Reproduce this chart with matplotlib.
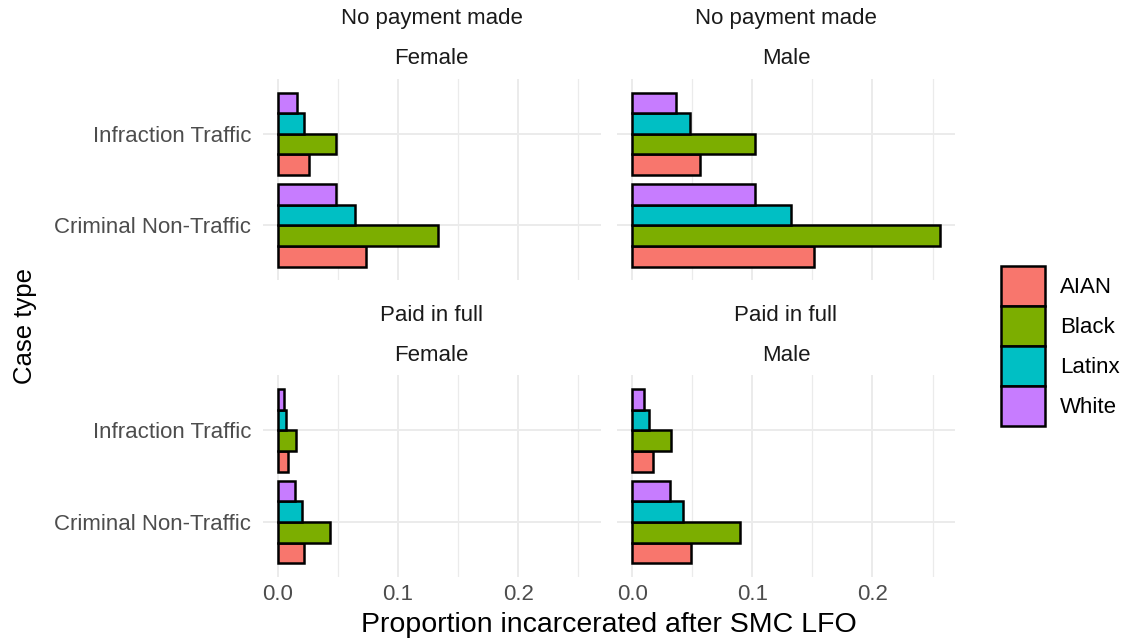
import matplotlib
matplotlib.use("Agg")
from matplotlib import pyplot as plt
from matplotlib.patches import Patch

plt.rcParams['font.family'] = ['Liberation Sans', 'DejaVu Sans']

# 数据
case_types = ["Criminal Non-Traffic", "Infraction Traffic"]
races = ["AIAN", "Black", "Latinx", "White"]
colors = ["#F8766D", "#7CAE00", "#00BFC4", "#C77CFF"]

payment_rows = ["No payment made", "Paid in full"]
sexes = ["Female", "Male"]

# 每个面板: 每个种族 [Criminal Non-Traffic, Infraction Traffic]
nopay_female = {"AIAN": [0.073, 0.026], "Black": [0.133, 0.048],
                "Latinx": [0.064, 0.022], "White": [0.048, 0.016]}
nopay_male = {"AIAN": [0.151, 0.056], "Black": [0.256, 0.102],
              "Latinx": [0.132, 0.048], "White": [0.102, 0.036]}
paid_female = {"AIAN": [0.022, 0.008], "Black": [0.043, 0.015],
               "Latinx": [0.020, 0.007], "White": [0.014, 0.005]}
paid_male = {"AIAN": [0.049, 0.017], "Black": [0.090, 0.032],
             "Latinx": [0.042, 0.014], "White": [0.031, 0.010]}

panels = [[nopay_female, nopay_male], [paid_female, paid_male]]

xmax = max(max(v) for p in [nopay_female, nopay_male, paid_female, paid_male] for v in p.values())
pad = 0.05 * xmax

fig = plt.figure(figsize=(11.25, 6.4), dpi=100)

W, H = 1125, 640
lefts = [262.6, 616.9]
pw = 338.2
tops = [78.8, 375.4]
ph = 201.5
grid_c = "#EBEBEB"
txt_c = "#4D4D4D"
fs = 16

bar_h = 0.225
offsets = [-0.3375, -0.1125, 0.1125, 0.3375]

for r in range(2):
    for c in range(2):
        ax = fig.add_axes([lefts[c] / W, 1 - (tops[r] + ph) / H, pw / W, ph / H])
        data = panels[r][c]
        for k, race in enumerate(races):
            ys = [i + offsets[k] for i in range(len(case_types))]
            ax.barh(ys, data[race], height=bar_h, color=colors[k],
                    edgecolor="black", linewidth=1.8, zorder=3)
        ax.set_xlim(-pad, xmax + pad)
        ax.set_ylim(-0.6, len(case_types) - 0.4)
        ax.set_xticks([0.0, 0.1, 0.2])
        ax.set_xticks([0.05, 0.15, 0.25], minor=True)
        ax.set_yticks(range(len(case_types)))
        ax.grid(True, which="major", color=grid_c, linewidth=1.4, zorder=0)
        ax.grid(True, which="minor", axis="x", color=grid_c, linewidth=0.9, zorder=0)
        for s in ax.spines.values():
            s.set_visible(False)
        ax.tick_params(which="both", length=0, labelsize=fs, colors=txt_c)
        ax.tick_params(axis="x", pad=5)
        ax.tick_params(axis="y", pad=8)
        if r == 1:
            ax.set_xticklabels(["0.0", "0.1", "0.2"])
        else:
            ax.set_xticklabels([])
        if c == 0:
            ax.set_yticklabels(case_types)
        else:
            ax.set_yticklabels([])
        cx = (lefts[c] + pw / 2) / W
        fig.text(cx, 1 - (tops[r] - 60) / H, payment_rows[r], ha="center", va="center",
                 fontsize=fs, color="#1A1A1A")
        fig.text(cx, 1 - (tops[r] - 20) / H, sexes[c], ha="center", va="center",
                 fontsize=fs, color="#1A1A1A")

fig.text(609 / W, 1 - 625 / H, "Proportion incarcerated after SMC LFO",
         ha="center", va="center", fontsize=20.5)
fig.text(25 / W, 1 - 326 / H, "Case type", ha="center", va="center",
         rotation=90, fontsize=18.5)

handles = [Patch(facecolor=col, edgecolor="black", linewidth=1.8) for col in colors]
fig.legend(handles, races, loc="center left", bbox_to_anchor=(1001 / W, 1 - 346 / H),
           frameon=False, fontsize=fs, handlelength=2.0, handleheight=2.4,
           labelspacing=0.0, handletextpad=0.65, borderpad=0, borderaxespad=0)

plt.savefig("out.png", dpi=100)
